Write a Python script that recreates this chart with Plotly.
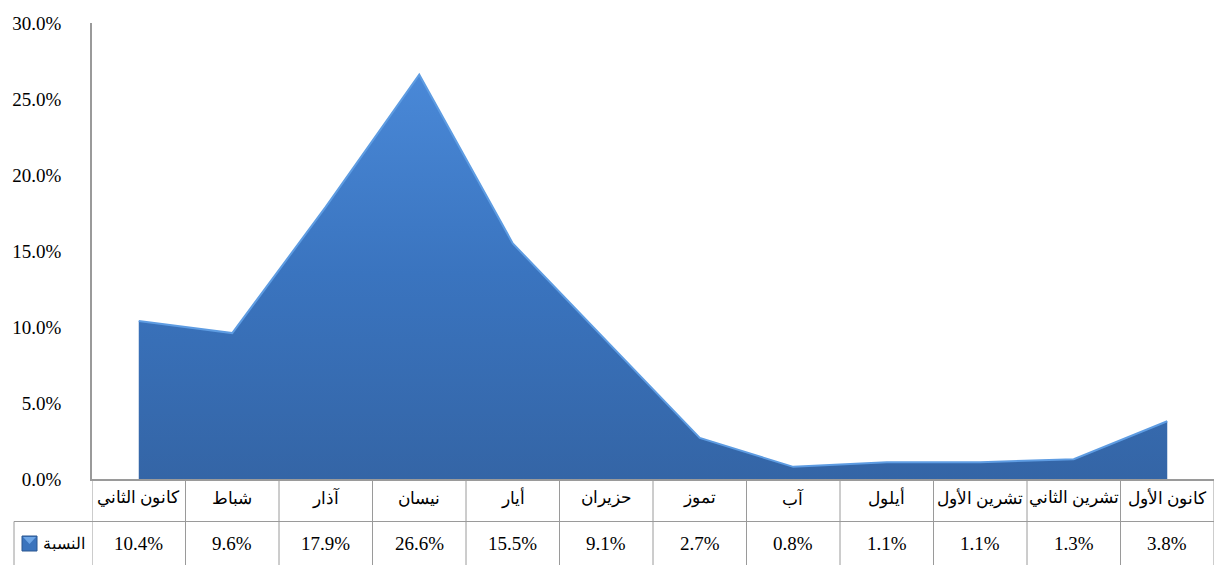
import plotly.graph_objects as go

# Monthly share (%) by month
months = ["كانون الثاني", "شباط", "آذار", "نيسان", "أيار", "حزيران",
          "تموز", "آب", "أيلول", "تشرين الأول", "تشرين الثاني", "كانون الأول"]
share = [10.4, 9.6, 17.9, 26.6, 15.5, 9.1, 2.7, 0.8, 1.1, 1.1, 1.3, 3.8]
series_name = "النسبة"
y_ticks = [0, 5, 10, 15, 20, 25, 30]
y_tick_labels = ["0.0%", "5.0%", "10.0%", "15.0%", "20.0%", "25.0%", "30.0%"]

W, H = 1214, 565
M_L, M_R, M_T, M_B = 92, 0, 23, 86
PLOT_H = H - M_T - M_B


def py(pixel_y):
    """Pixel row -> paper y coordinate."""
    return (H - M_B - pixel_y) / PLOT_H


def px(pixel_x):
    """Pixel column -> paper x coordinate."""
    return (pixel_x - M_L) / (W - M_L - M_R)


SERIF = "Times New Roman, Liberation Serif, serif"
ARABIC = "Times New Roman, Liberation Serif, serif"
GRID = "#9a9a9a"

x = list(range(len(months)))

fig = go.Figure()
fig.add_trace(go.Scatter(
    x=x, y=share, mode="lines", name=series_name,
    line=dict(color="#5e9ce2", width=2),
    fill="tozeroy",
    fillgradient=dict(type="vertical", start=0, stop=27,
                      colorscale=[[0, "#3465a6"], [0.5, "#3a74bf"], [1, "#4a89d8"]]),
    hoverinfo="skip", showlegend=False,
))

shapes = []
# data table: vertical cell borders
for i in range(len(months) + 1):
    shapes.append(dict(type="line", xref="x", yref="paper",
                       x0=i - 0.5, x1=i - 0.5, y0=0, y1=py(H + 2),
                       line=dict(color=GRID, width=1)))
# row separator
shapes.append(dict(type="line", xref="paper", yref="paper",
                   x0=px(14), x1=1, y0=py(521.5), y1=py(521.5),
                   line=dict(color=GRID, width=1)))
# legend cell left border
shapes.append(dict(type="line", xref="paper", yref="paper",
                   x0=px(14), x1=px(14), y0=py(521.5), y1=py(H + 2),
                   line=dict(color=GRID, width=1)))
# legend key
shapes.append(dict(type="rect", xref="paper", yref="paper",
                   x0=px(22), x1=px(37), y0=py(536), y1=py(551),
                   fillcolor="#3b74bd", line=dict(color="#2b5690", width=1)))
shapes.append(dict(type="path", xref="paper", yref="paper",
                   path=f"M {px(23)},{py(537)} L {px(36)},{py(537)} L {px(29.5)},{py(544)} Z",
                   fillcolor="#6ea6e6", line=dict(width=0)))

annotations = []
for i, (m, v) in enumerate(zip(months, share)):
    annotations.append(dict(x=i, y=py(498), xref="x", yref="paper",
                            text=m, showarrow=False, xanchor="center", yanchor="middle",
                            font=dict(family=ARABIC, size=17, color="#000")))
    annotations.append(dict(x=i, y=py(543), xref="x", yref="paper",
                            text=f"{v:.1f}%", showarrow=False, xanchor="center", yanchor="middle",
                            font=dict(family=SERIF, size=19, color="#000")))
annotations.append(dict(x=px(87), y=py(543), xref="paper", yref="paper",
                        text=series_name, showarrow=False, xanchor="right", yanchor="middle",
                        font=dict(family=ARABIC, size=16, color="#000")))

fig.update_layout(
    width=W, height=H,
    margin=dict(l=M_L, r=M_R, t=M_T, b=M_B),
    paper_bgcolor="white", plot_bgcolor="white",
    shapes=shapes, annotations=annotations,
    xaxis=dict(range=[-0.5, len(months) - 0.5], showticklabels=False,
               showgrid=False, zeroline=False, showline=True,
               linecolor=GRID, linewidth=1.5, fixedrange=True),
    yaxis=dict(range=[0, 30], tickvals=y_ticks, ticktext=y_tick_labels,
               showgrid=False, zeroline=False, showline=True,
               linecolor=GRID, linewidth=1.5, ticks="",
               ticklabelstandoff=25,
               tickfont=dict(family=SERIF, size=19, color="#000")),
)

fig.write_html("out.html")
